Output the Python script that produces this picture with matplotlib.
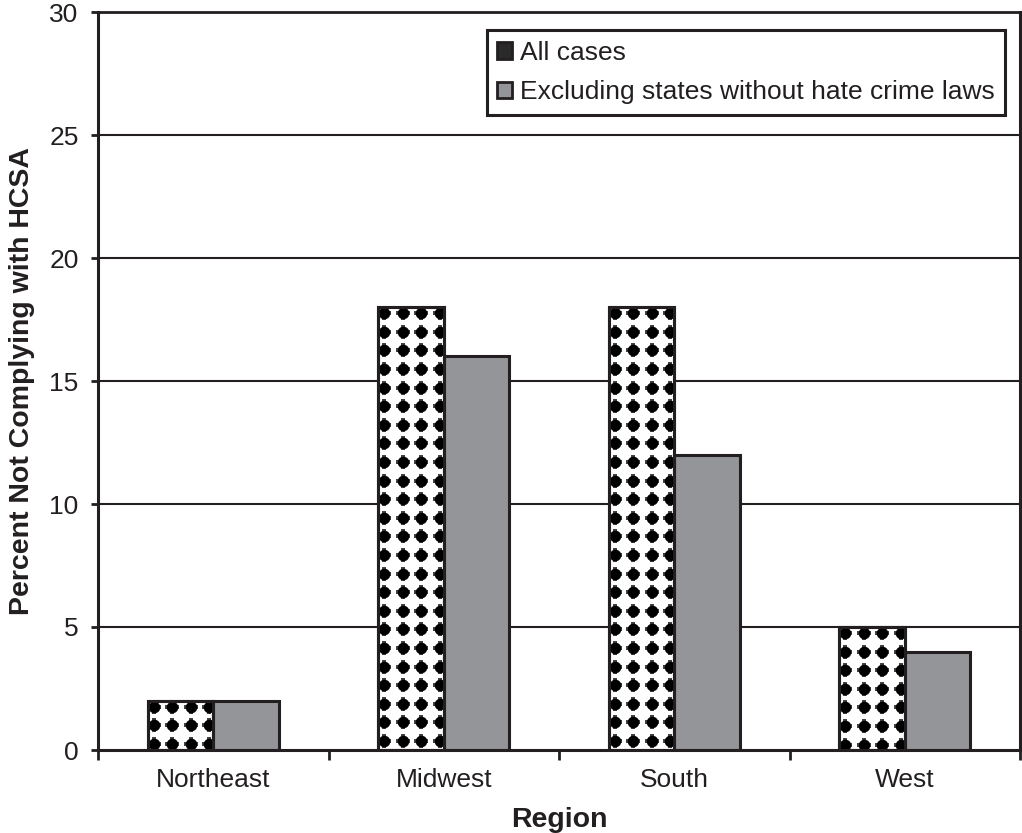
import matplotlib
matplotlib.use("Agg")
import matplotlib.pyplot as plt
import numpy as np
from matplotlib.patches import Patch

plt.rcParams['font.family'] = ['Liberation Sans', 'DejaVu Sans']

regions = ['Northeast', 'Midwest', 'South', 'West']
all_cases = [2, 18, 18, 5]
excluding = [2, 16, 12, 4]
series_labels = ['All cases', 'Excluding states without hate crime laws']
y_ticks = [0, 5, 10, 15, 20, 25, 30]

ink = '#231f20'
gray = '#939598'

fig = plt.figure(figsize=(10.22, 8.33), dpi=100)
ax = fig.add_axes([98 / 1022, 1 - 750 / 833, (1020 - 98) / 1022, (750 - 12) / 833])
ax.set_xlim(0, len(regions))
ax.set_ylim(0, 30)

# grid lines behind bars
for v in y_ticks[1:]:
    ax.axhline(v, color=ink, lw=1.5, zorder=0)

w = 0.285
centers = np.arange(len(regions)) + 0.5
bars1 = ax.bar(centers - w / 2, all_cases, width=w, facecolor='white',
               edgecolor=ink, linewidth=2.2, zorder=2)
bars2 = ax.bar(centers + w / 2, excluding, width=w, facecolor=gray,
               edgecolor=ink, linewidth=2.2, zorder=2)

# dotted fill for "All cases", regular grid of dots in pixel spacing
inv = ax.transData.inverted()
step_px = 18.6
for b in bars1:
    x0, y0 = b.get_x(), b.get_y()
    x1, y1 = x0 + b.get_width(), y0 + b.get_height()
    p0 = ax.transData.transform((x0, y1))
    p1 = ax.transData.transform((x1, y0))
    xs = np.arange(p0[0] + 6, p1[0] + 8, step_px)
    ys = np.arange(p0[1] - 6, p1[1] - 8, -step_px)
    gx, gy = np.meshgrid(xs, ys)
    pts = inv.transform(np.column_stack([gx.ravel(), gy.ravel()]))
    # round core plus short soft cross arms
    sc = ax.scatter(pts[:, 0], pts[:, 1], s=70, marker='o', color='black',
                    linewidths=0, zorder=2.5)
    sc.set_clip_path(b)
    sc2 = ax.scatter(pts[:, 0], pts[:, 1], s=95, marker='P', color='#444444',
                     linewidths=0, zorder=2.4)
    sc2.set_clip_path(b)
    b2 = plt.Rectangle((x0, y0), b.get_width(), b.get_height(), fill=False,
                       edgecolor=ink, linewidth=2.2, zorder=3)
    ax.add_patch(b2)

# axes styling
for s in ['left', 'bottom', 'right']:
    ax.spines[s].set_linewidth(2.2)
    ax.spines[s].set_color(ink)
ax.spines['top'].set_visible(False)
ax.axhline(30, color=ink, lw=2.0, zorder=1, clip_on=False)

ax.set_yticks(y_ticks)
ax.tick_params(axis='y', direction='out', length=5, width=2, color=ink,
               labelsize=19, labelcolor=ink, pad=9)
ax.set_xticks(np.arange(len(regions) + 1))
ax.set_xticklabels([])
ax.set_xticks(centers, minor=True)
ax.set_xticklabels(regions, minor=True)
ax.tick_params(axis='x', which='major', direction='out', length=7, width=2, color=ink)
ax.tick_params(axis='x', which='minor', length=0, labelsize=19, labelcolor=ink, pad=13)
ax.tick_params(axis='y', which='minor', length=0)

ax.set_xlabel('Region', fontsize=20.5, fontweight='bold', color=ink, labelpad=11)
ax.set_ylabel('Percent Not Complying with HCSA', fontsize=20.5, fontweight='bold',
              color=ink, labelpad=10)

handles = [Patch(facecolor='#2a2a2a', edgecolor=ink, linewidth=2),
           Patch(facecolor=gray, edgecolor=ink, linewidth=2)]
leg = ax.legend(handles, series_labels, loc='upper right',
                bbox_to_anchor=(1005 / 1022, 1 - 30 / 833), bbox_transform=fig.transFigure,
                fontsize=19, frameon=True, fancybox=False, borderpad=0.4,
                handlelength=0.55, handleheight=0.6, handletextpad=0.3,
                labelspacing=0.6, borderaxespad=0)
leg.get_frame().set_edgecolor(ink)
leg.get_frame().set_linewidth(2.2)
leg.get_frame().set_alpha(1)
for t in leg.get_texts():
    t.set_color(ink)

fig.savefig('out.png', dpi=100)
